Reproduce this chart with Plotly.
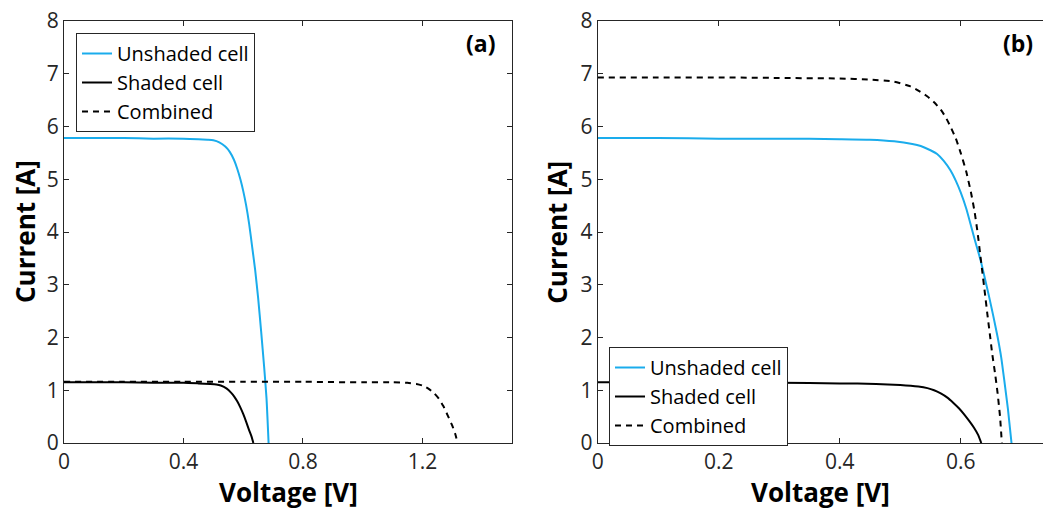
import plotly.graph_objects as go

# ---------------- data ----------------
# (a) series connection
ua_v = [0, 0.10, 0.20, 0.30, 0.40, 0.45, 0.48, 0.50, 0.52, 0.54, 0.555, 0.569, 0.58, 0.591, 0.60, 0.61, 0.62, 0.63, 0.64, 0.65, 0.66, 0.67, 0.678, 0.685]
ua_i = [5.78, 5.78, 5.78, 5.77, 5.77, 5.76, 5.75, 5.74, 5.70, 5.62, 5.52, 5.37, 5.20, 4.99, 4.78, 4.50, 4.15, 3.72, 3.28, 2.75, 2.12, 1.45, 0.85, 0.0]

sa_v = [0, 0.10, 0.20, 0.30, 0.40, 0.45, 0.49, 0.51, 0.525, 0.545, 0.56, 0.57, 0.58, 0.59, 0.60, 0.61, 0.62, 0.628, 0.634]
sa_i = [1.15, 1.15, 1.15, 1.14, 1.14, 1.13, 1.12, 1.11, 1.09, 1.03, 0.95, 0.88, 0.79, 0.68, 0.55, 0.40, 0.24, 0.12, 0.0]

ca_v = [0, 0.20, 0.40, 0.60, 0.80, 1.00, 1.10, 1.15, 1.18, 1.20, 1.22, 1.24, 1.255, 1.27, 1.285, 1.30, 1.31, 1.318]
ca_i = [1.16, 1.16, 1.16, 1.16, 1.16, 1.15, 1.15, 1.14, 1.12, 1.09, 1.03, 0.94, 0.84, 0.70, 0.52, 0.33, 0.17, 0.0]

# (b) parallel connection
ub_v = [0, 0.10, 0.20, 0.30, 0.40, 0.45, 0.49, 0.52, 0.534, 0.55, 0.561, 0.572, 0.583, 0.592, 0.60, 0.609, 0.617, 0.625, 0.633, 0.64, 0.647, 0.654, 0.661, 0.667, 0.672, 0.678, 0.684]
ub_i = [5.78, 5.78, 5.77, 5.77, 5.76, 5.75, 5.72, 5.67, 5.63, 5.55, 5.48, 5.35, 5.17, 4.97, 4.75, 4.45, 4.12, 3.78, 3.46, 3.12, 2.77, 2.40, 2.01, 1.62, 1.19, 0.65, 0.0]

sb_v = [0, 0.10, 0.20, 0.30, 0.40, 0.46, 0.50, 0.53, 0.545, 0.556, 0.567, 0.578, 0.588, 0.597, 0.606, 0.614, 0.622, 0.629, 0.634]
sb_i = [1.15, 1.15, 1.15, 1.14, 1.13, 1.12, 1.10, 1.07, 1.04, 1.00, 0.94, 0.86, 0.76, 0.66, 0.54, 0.42, 0.29, 0.15, 0.0]

cb_v = [0, 0.10, 0.20, 0.30, 0.40, 0.45, 0.49, 0.517, 0.53, 0.545, 0.556, 0.567, 0.575, 0.583, 0.592, 0.60, 0.609, 0.617, 0.623, 0.628, 0.632, 0.636, 0.640, 0.644, 0.648, 0.652, 0.657, 0.661, 0.665, 0.668]
cb_i = [6.93, 6.93, 6.93, 6.92, 6.91, 6.89, 6.85, 6.76, 6.68, 6.57, 6.46, 6.32, 6.18, 6.00, 5.77, 5.50, 5.15, 4.75, 4.38, 3.98, 3.60, 3.22, 2.84, 2.45, 2.08, 1.70, 1.30, 0.94, 0.50, 0.0]

series_names = ["Unshaded cell", "Shaded cell", "Combined"]
xticks_a = [0, 0.4, 0.8, 1.2]
xticks_b = [0, 0.2, 0.4, 0.6]
yticks = [0, 1, 2, 3, 4, 5, 6, 7, 8]
panel_labels = ["(a)", "(b)"]
x_title = "Voltage [V]"
y_title = "Current [A]"

# ---------------- styling ----------------
BLUE = "#1AACEC"
AX = "#262626"
FONT = "Open Sans"
W, H = 1043, 514
ML, MR, MT, MB = 64, 0, 21, 71

fig = go.Figure()

def add(v, i, name, color, dash, xa, ya, legend):
    fig.add_trace(go.Scatter(
        x=v, y=i, name=name, mode="lines",
        line=dict(color=color, width=2, dash=dash, shape="spline", smoothing=0.5),
        xaxis=xa, yaxis=ya, legend=legend, showlegend=True, hoverinfo="skip"))

add(ua_v, ua_i, series_names[0], BLUE, "solid", "x", "y", "legend")
add(sa_v, sa_i, series_names[1], "black", "solid", "x", "y", "legend")
add(ca_v, ca_i, series_names[2], "black", "6px,5px", "x", "y", "legend")
add(ub_v, ub_i, series_names[0], BLUE, "solid", "x2", "y2", "legend2")
add(sb_v, sb_i, series_names[1], "black", "solid", "x2", "y2", "legend2")
add(cb_v, cb_i, series_names[2], "black", "6px,5px", "x2", "y2", "legend2")

pw = W - ML - MR
ph = H - MT - MB
xa_end = (512 - ML) / pw
xb_start = (597.7 - ML) / pw

axis_common = dict(
    showline=True, linecolor=AX, linewidth=1, ticks="inside", ticklen=5,
    tickcolor=AX, tickwidth=1, showgrid=False, zeroline=False,
    tickfont=dict(family=FONT, size=21, color=AX),
)

leg_font = dict(family=FONT, size=20, color="black")

fig.update_layout(
    width=W, height=H,
    margin=dict(l=ML, r=MR, t=MT, b=MB, pad=0),
    paper_bgcolor="white", plot_bgcolor="white",
    xaxis=dict(domain=[0, xa_end], range=[0, 1.5], tickvals=xticks_a,
               ticktext=[f"{t:g}" for t in xticks_a], mirror="ticks", anchor="y", **axis_common),
    yaxis=dict(domain=[0, 1], range=[0, 8], tickvals=yticks, mirror="ticks", anchor="x", **axis_common),
    xaxis2=dict(domain=[xb_start, 1], range=[0, (1043 - 597.7) / 605.0], tickvals=xticks_b,
                ticktext=[f"{t:g}" for t in xticks_b], mirror="ticks", anchor="y2", **axis_common),
    yaxis2=dict(domain=[0, 1], range=[0, 8], tickvals=yticks, mirror=False, anchor="x2", **axis_common),
    legend=dict(x=(76 - ML) / pw, y=(443 - 33) / ph, xanchor="left", yanchor="top",
                bgcolor="white", bordercolor=AX, borderwidth=1,
                font=leg_font, tracegroupgap=0),
    legend2=dict(x=(609 - ML) / pw, y=(443 - 347) / ph, xanchor="left", yanchor="top",
                 bgcolor="white", bordercolor=AX, borderwidth=1,
                 font=leg_font, tracegroupgap=0),
    showlegend=True,
)

ann = []
for xr, yr, yt_x in [("x domain", "y domain", (25 - 64) / 448), ("x2 domain", "y2 domain", (556.7 - 597.7) / 445.3)]:
    ann.append(dict(text=f"<b>{x_title}</b>", xref=xr, yref=yr, x=0.5, y=(443 - 492) / 422,
                    xanchor="center", yanchor="middle", showarrow=False,
                    font=dict(family=FONT, size=26, color="black")))
    ann.append(dict(text=f"<b>{y_title}</b>", xref=xr, yref=yr, x=yt_x, y=0.5, textangle=-90,
                    xanchor="center", yanchor="middle", showarrow=False,
                    font=dict(family=FONT, size=26, color="black")))
ann.append(dict(text=f"<b>{panel_labels[0]}</b>", xref="x domain", yref="y domain",
                x=(480 - 64) / 448, y=(443 - 43) / 422, xanchor="center", yanchor="middle",
                showarrow=False, font=dict(family=FONT, size=23, color="black")))
ann.append(dict(text=f"<b>{panel_labels[1]}</b>", xref="x2 domain", yref="y2 domain",
                x=(1018 - 597.7) / 445.3, y=(443 - 43) / 422, xanchor="center", yanchor="middle",
                showarrow=False, font=dict(family=FONT, size=23, color="black")))
fig.update_layout(annotations=ann)

fig.write_html("out.html")
